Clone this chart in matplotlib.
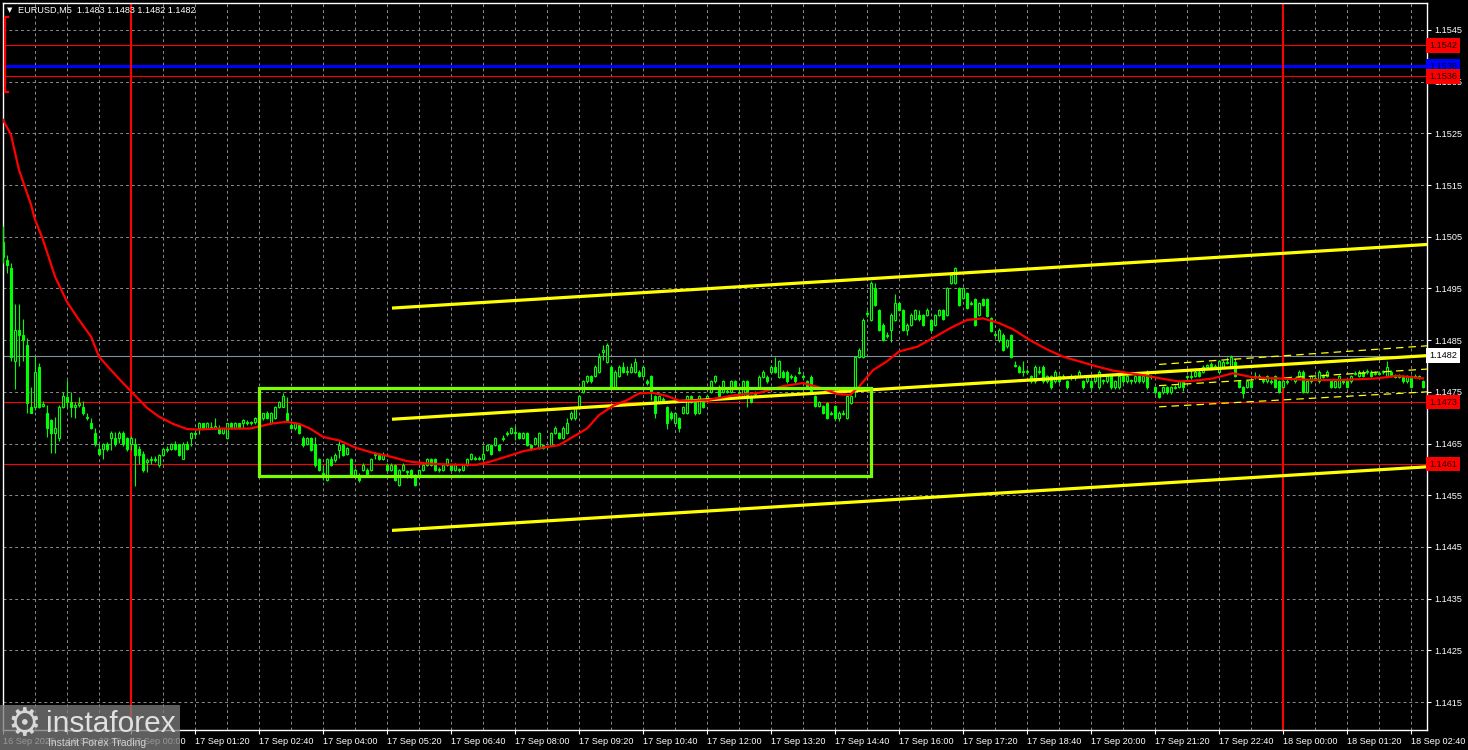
import matplotlib
matplotlib.use("Agg")
import matplotlib.pyplot as plt
import matplotlib.patches as mpatches
import numpy as np

plt.rcParams['font.family'] = ['Liberation Sans', 'DejaVu Sans']

# EURUSD M5, bar 0 = 17 Sep 00:00, prices in pips above 1.1400
BASE = 1.1400
PIP = 0.0001
first_bar = -32

opens = [
    104, 100.5, 99, 81, 87, 86, 84, 72.1, 72.1, 79.9, 72.3, 70.9, 69.6, 67, 66, 72.1,
    74, 73.1, 72.1, 72.4, 72, 70.2, 68.9, 67, 63.9, 63.9, 64.9, 66, 66, 66, 67, 66,
    64.9, 64.9, 63.9, 63, 61.4, 61.8, 62, 60.8, 62.8, 63.9, 63.9, 64.9, 64.9, 62, 64.9, 66,
    66.8, 68, 68.9, 68, 68.2, 68, 68, 67, 66, 68.9, 68, 68.9, 68.9, 69.2, 68.9, 69.1,
    69.9, 69.9, 70.9, 68.9, 69.9, 72.1, 72.1, 71, 68.6, 68, 68.6, 66, 65, 66, 65, 62,
    59.3, 58, 62, 61.8, 63.8, 64.7, 63, 62, 59, 59, 59.9, 59.9, 59.9, 62.7, 62.8, 62,
    60.9, 59.9, 60.9, 57, 59.9, 59.6, 59.9, 59, 59, 59.9, 60.9, 62, 62, 59.9, 59.9, 60.9,
    60.9, 59.9, 59.9, 59.9, 60.9, 62, 62.2, 62, 62, 63.8, 64.7, 64.7, 64.7, 65.8, 66.8, 67,
    67, 67, 66, 67, 64.7, 65, 64.1, 64.7, 64.3, 64.7, 67, 67, 66, 67, 69.9, 69.9,
    71.8, 75, 77, 78, 78, 78.9, 82.8, 80.8, 79.9, 76, 78, 79.9, 78.9, 78.9, 78.9, 78.9,
    78, 77, 78, 74.1, 73.1, 73.7, 72.1, 70.9, 68.9, 69.9, 70.9, 70.9, 74.1, 73.1, 70.9, 73.1,
    73.9, 75, 77, 76, 75, 75.2, 75, 77, 74.9, 74.1, 77, 74.1, 74.6, 76, 77.9, 77.9,
    78.9, 79.9, 77.9, 78.9, 78.9, 77.8, 77.9, 78.7, 78, 77, 77.9, 74.1, 72.2, 72.2, 72.8, 70.8,
    72.2, 69.9, 70.8, 69.9, 72.8, 76, 81.8, 81.8, 90, 88.9, 95, 90.8, 88, 85.8, 87, 88.9,
    92.1, 90.8, 87, 88, 89, 89.9, 89.9, 89.9, 88.9, 88, 89.9, 90.8, 89.9, 96, 96, 95,
    93.1, 94.1, 92, 92.9, 89.9, 92.9, 92.9, 89.2, 86.2, 85, 86, 83.8, 86, 80.2, 79.9, 79,
    78.8, 78, 77, 79, 79.9, 77, 78, 77, 78, 77.8, 77, 77.8, 78, 78, 77, 77,
    77, 77, 75.9, 77.2, 77, 78, 75.9, 75.9, 78, 77, 77.2, 77, 78, 77, 78.9, 77.8,
    75.9, 74.9, 74.9, 75.9, 74.9, 75.8, 75.9, 77, 77.8, 78, 78, 78.9, 78.9, 79.9, 80.3, 79.8,
    78.9, 79.9, 80.8, 79.9, 80.8, 77, 75.9, 75.9, 77, 77.8, 78, 77.2, 77, 77.1, 78, 77,
    76, 77.1, 77.5, 77, 78, 78.9, 75, 77, 77.5, 77, 78.1, 78, 77, 76, 76, 77.1,
    77, 77, 78.5, 78, 78.9, 78.8, 78.9, 78.5, 78.7, 78.8, 78, 78.9, 78.1, 77.9, 78, 77,
    78, 77.9, 78, 77,
]
highs = [
    107, 101.5, 100, 92, 92, 89, 85.5, 76, 82, 80.5, 73.2, 72.5, 69.8, 70.2, 72.5, 75,
    77.3, 75, 73.1, 74, 73.2, 71, 70, 68, 65, 65.2, 65.3, 67.5, 67.2, 67.5, 67.5, 66.3,
    66.5, 66, 64.5, 63.5, 62.2, 62.5, 62.5, 63, 64.2, 64.5, 65.2, 65.5, 65, 65.3, 65.5, 67.2,
    67.5, 69.2, 69, 69.2, 69.1, 69.9, 68.5, 68.1, 69, 69.1, 69.2, 69, 69.8, 69.6, 69.3, 70.2,
    70.3, 71, 71.2, 71.1, 72.3, 73.3, 74.8, 74, 69, 69.2, 68.9, 66.5, 66.3, 66.2, 66.3, 62.3,
    60.9, 62.3, 62.5, 63.2, 65.7, 65, 64.4, 62.3, 60.2, 59.3, 61.2, 60.2, 62.3, 63.3, 63.1, 63.4,
    61.2, 61.2, 61.1, 60.1, 61.2, 59.9, 60.1, 59.2, 60.1, 61.1, 62.2, 62.3, 62.2, 60.4, 61.1, 62.2,
    61.1, 61.2, 60.3, 61.1, 62.2, 63.2, 62.5, 62.5, 64.7, 65, 65, 66.3, 65, 66.6, 67.5, 68.2,
    68.3, 67.2, 67.2, 67.2, 65, 66.3, 67.2, 65, 64.8, 67.3, 68.3, 67.2, 68.3, 70, 71.2, 72.1,
    74.3, 77.3, 78.3, 78.3, 80.2, 82.5, 84.1, 84.5, 80.2, 79.2, 80.2, 80.8, 80, 80.5, 81.5, 79.2,
    80.2, 77.5, 78.3, 74.3, 74.3, 74, 72.3, 71.2, 71.1, 70.2, 72.3, 74.3, 74.3, 73.3, 74.3, 73.3,
    74.5, 77.3, 78.3, 76.3, 77.3, 75.5, 77.3, 77.3, 75.5, 77.3, 77.3, 74.3, 75.2, 78.2, 79.2, 78.2,
    80.2, 81.8, 81.2, 79.2, 79.2, 78.5, 78.2, 79.8, 78.4, 77.2, 78.2, 74.3, 73.3, 72.4, 73, 71.3,
    72.4, 71.2, 71.5, 74.3, 74.4, 82, 83.4, 89.2, 90.8, 96.4, 96, 91, 88.3, 86.5, 90.2, 94,
    92.4, 91, 88.3, 90.2, 91.1, 90.8, 90.1, 91.2, 89.1, 90.1, 91, 91, 95.3, 97.9, 99.1, 95.2,
    95.3, 94.4, 92.6, 93.1, 92.4, 93.1, 93.1, 89.5, 86.6, 87.3, 86.3, 85.3, 86.2, 80.9, 80.2, 80.9,
    79.4, 78.2, 80.1, 80, 80.1, 78.2, 78.2, 79.2, 78.3, 78.4, 77.2, 78.5, 78.3, 79.2, 77.2, 78.2,
    77.2, 78.2, 79.2, 77.5, 78.3, 78.2, 77.2, 78.2, 78.2, 78.2, 77.5, 78.2, 78.2, 78.2, 79.2, 78.3,
    76.1, 75.1, 76.1, 76.1, 76.1, 76.4, 77.2, 77.2, 78.3, 79.2, 79.2, 79.2, 80.2, 80.4, 80.8, 80.3,
    81.2, 81.1, 81.8, 82.1, 81.5, 77.2, 76.1, 77.2, 77.2, 78.8, 78.5, 77.5, 78.2, 77.4, 78.2, 77.2,
    77.2, 77.4, 78, 77.9, 79.2, 79.2, 77.2, 78.2, 78, 79.2, 78.4, 79.2, 77.2, 77.2, 78.2, 77.4,
    77.2, 78.2, 79, 79.2, 79.2, 79.4, 79.2, 79, 79, 79.3, 80.9, 79.2, 78.4, 78.4, 78.2, 78.2,
    78.2, 78.4, 78.3, 77.2,
]
lows = [
    100, 97.9, 81, 75.5, 80, 81, 71, 70.9, 71.5, 71.8, 72, 66.3, 63.1, 63.1, 65.5, 71.8,
    72.1, 70.2, 69.9, 72, 70.5, 69.5, 67.8, 64.5, 62.8, 62, 63.5, 63.8, 64.6, 65.2, 64.5, 63.5,
    63.8, 56.8, 61, 59.5, 59.5, 61, 61.5, 60.5, 62.5, 63.3, 63.8, 63.8, 62.5, 62, 63.8, 64.5,
    66, 66.8, 67.8, 67.9, 67.8, 67.9, 66.9, 66.8, 65.8, 67.9, 67.9, 67.8, 68, 68.6, 68.5, 68.8,
    68.7, 69.5, 69.7, 68.7, 69.7, 71.8, 72, 69.2, 67.8, 67.7, 66.8, 64.3, 64.8, 63.5, 60.5, 59.7,
    58, 57.8, 60.7, 61.5, 62.2, 62.5, 62.8, 58.8, 58.7, 57.6, 59.7, 58.7, 59.7, 62, 61.8, 61.8,
    59.7, 59.6, 57.8, 56.8, 59.7, 58.3, 58.4, 56.8, 58.8, 59.7, 60.7, 60.7, 59.7, 59.5, 59.6, 60.7,
    59.7, 59.7, 59.5, 59.7, 60.7, 61.8, 61.8, 61.8, 61.8, 63.6, 62.8, 64.5, 63.6, 65.5, 66.5, 66.8,
    65.7, 65.8, 65.8, 64.5, 63.8, 64.8, 63.9, 63.9, 64, 64.5, 66.8, 65.8, 65.8, 66.8, 69.6, 69.6,
    71.6, 74.8, 76.7, 76.8, 77.8, 78.6, 81.2, 80.6, 75.8, 75.8, 77.8, 78.7, 78.3, 78.7, 78.7, 77.8,
    77.8, 76.3, 73.5, 70, 72.9, 72.8, 67.9, 69.6, 68.7, 67.2, 70.7, 70.7, 72.9, 70.6, 70.7, 71.8,
    73.6, 74.8, 76.8, 73.9, 74.8, 74.7, 74.8, 75.8, 74.2, 73.9, 72.1, 72.8, 74.2, 75.8, 77.7, 76.7,
    78.7, 78.7, 77.7, 77.7, 76.8, 77.4, 76.8, 78.4, 77.4, 75.8, 74.8, 72, 72, 70.7, 69.7, 70.5,
    69.5, 69.3, 70.5, 69.7, 72.6, 74, 81.6, 81.6, 89.4, 88.7, 91.6, 86.8, 84.8, 85.5, 84.7, 88.7,
    90.6, 86.8, 86, 87.8, 88.8, 88.7, 87.8, 89.7, 86.8, 87.8, 89.7, 88.8, 89.7, 95.8, 95.8, 91.6,
    92.9, 91, 91.7, 87.8, 89.7, 91.6, 89.4, 86.5, 85.6, 84.7, 82.9, 83.5, 81.6, 79.9, 78.7, 78,
    78.5, 76.8, 76.8, 78.5, 76.8, 76.7, 75.6, 76.8, 76.8, 77.5, 75.6, 77.3, 77.3, 77.8, 75.6, 76.8,
    75.6, 76.8, 75.6, 76.6, 76.8, 75.6, 75.6, 75.6, 76.8, 76.8, 76.6, 76.8, 76.8, 76.8, 75.6, 77.5,
    74.6, 73.8, 74.6, 74.6, 74.6, 75.5, 75.7, 75.2, 77.5, 77.5, 77.8, 77.8, 78.7, 79.6, 79.2, 79.5,
    78.7, 79.7, 80.3, 79.7, 77.8, 75.8, 73.8, 75.7, 75.7, 77.5, 77.5, 76.7, 76.8, 76.6, 75.8, 74.8,
    75.8, 76.5, 77.2, 76.8, 77.8, 74.8, 74.8, 76.8, 77.2, 76.8, 77.6, 77.8, 75.8, 75.8, 75.8, 76.6,
    75.8, 76.8, 78.2, 77.8, 77.8, 78.5, 77.8, 78.2, 78.2, 78.5, 77.8, 77.8, 77.6, 77.6, 76.8, 76.8,
    75.8, 77.6, 77.5, 75.8,
]
closes = [
    101, 99.6, 81.8, 87, 86, 85, 72.8, 71, 78.9, 72.1, 72.7, 68, 67, 68, 72.1, 74.1,
    73, 72.1, 72.4, 72.9, 70.9, 69.9, 68, 64.9, 63, 64.9, 63.9, 67, 64.9, 67, 64.9, 63.9,
    66, 62.8, 62.8, 59.9, 61.8, 62, 61.8, 62.8, 63.9, 63.7, 64.9, 63.9, 62.8, 64.9, 63.9, 67,
    67, 68.9, 68, 68.9, 68, 68.3, 67, 68, 68.9, 68, 68.9, 68, 69.6, 68.9, 69.1, 69.9,
    68.9, 70.9, 69.9, 70.9, 72.1, 73.1, 74.1, 69.6, 68, 68.9, 67, 64.7, 66, 63.8, 60.9, 59.9,
    58.9, 62, 60.9, 62.8, 64.7, 62.8, 64.1, 59, 59.9, 58, 60.9, 59, 62, 62.9, 62, 62.8,
    59.9, 60.9, 58, 59.9, 60.9, 59.4, 58.6, 57, 59.9, 60.9, 62, 60.9, 59.9, 60.1, 60.9, 62,
    59.9, 60.9, 60.1, 60.9, 62, 63, 62, 62.2, 63, 64.7, 63, 66, 63.8, 66, 67, 68,
    67.2, 66, 67, 64.7, 64.1, 66, 67, 64.1, 64.5, 67, 68, 66, 68, 68.9, 70.9, 71.8,
    74.1, 77, 78, 77, 79.9, 81.8, 83.1, 84.1, 76, 78.9, 79.9, 78.9, 79.1, 79.9, 80.8, 78,
    79.9, 76.8, 75, 70.9, 74.1, 73.1, 68.9, 69.9, 70.9, 68, 72.1, 74.1, 73.1, 70.9, 74.1, 72.1,
    74.1, 77, 78, 74.1, 77, 75, 77, 76, 74.7, 77, 74.1, 73.1, 74.8, 77.9, 78.9, 77,
    79.9, 78.9, 80.9, 77.9, 77, 78, 77, 78.9, 77.8, 76, 75, 72.2, 73.1, 70.9, 69.9, 71,
    69.9, 70.9, 71, 74.1, 74.1, 81.8, 83.1, 88.9, 90.2, 96, 91.8, 87, 85, 86, 89.9, 92.1,
    90.8, 87, 88, 89.9, 90.8, 89, 88, 90.8, 87, 89.9, 90.8, 89, 95, 97.6, 98.9, 91.8,
    95, 91.2, 92.2, 88, 92.1, 91.8, 89.6, 86.7, 86, 87, 83.1, 85, 81.8, 80, 78.9, 78.9,
    79, 77, 79.9, 78.8, 77, 78, 75.9, 78.9, 77, 78, 75.9, 78, 77.8, 78.9, 75.9, 78,
    75.9, 78, 78.9, 77, 78, 75.9, 77, 78, 77, 78, 77, 78, 77, 78, 75.9, 78,
    74.9, 74, 75.9, 74.9, 75.9, 76, 77, 75.9, 78, 77.8, 78.9, 78, 79.9, 80.1, 79.5, 80,
    80.9, 80.8, 80.6, 81.8, 78, 76, 74.8, 77, 75.9, 78, 77.8, 77, 78, 76.9, 76, 75,
    77, 76.9, 77.7, 77.6, 78.9, 75, 77, 78, 77.7, 78.9, 77.9, 78.9, 76, 77, 78, 76.9,
    76, 78, 78.7, 78.9, 78, 79, 78, 78.7, 78.5, 79, 79.9, 78, 77.9, 78.1, 77, 78,
    76, 78.1, 77.7, 76,
]

# moving average (red), read at these bars
ma_bars = [-32, -30, -28, -25, -24, -22, -19, -16, -13, -10, -8, -5, -2, 0.5, 4, 7,
           10.5, 14, 17, 21.5, 25.5, 29.75, 32, 35.5, 39, 42, 44.75, 48, 52, 56.5, 60.5, 64.75,
           69, 73, 77, 81.5, 86.5, 89.75, 94, 98, 102, 107, 110.5, 114, 117, 120.5, 124, 127,
           130.5, 134, 137, 140.5, 144, 147, 150.5, 154, 157, 163, 168, 171.5, 176.5, 179.75, 182, 185.5,
           189, 192, 196.5, 200.5, 204.75, 209, 213, 217, 220.5, 224.75, 229, 233, 237, 241.5, 245.5,
           249.75, 254, 258, 262, 266.5, 270.5, 275.5, 280.5, 286.5, 294.75, 303, 311.5, 316.5, 323]
ma_pips = [127.6, 124.7, 117.9, 111.2, 108.3, 104.4, 97.3, 92.4, 88.9, 85.7, 81.8, 79.2, 76.7, 74.7, 71.9, 70.2,
           68.8, 67.8, 67.7, 67.9, 67.9, 67.9, 68.3, 68.9, 69.2, 68.8, 67.9, 66.3, 65.6, 64.1, 63.2, 62.5,
           61.6, 61.2, 61.0, 60.9, 60.9, 61.5, 62.5, 63.5, 64.1, 64.7, 66.3, 67.9, 70.5, 72.3, 73.4, 74.7,
           74.8, 74.2, 73.3, 73.3, 73.4, 73.8, 74.3, 74.6, 74.8, 76.1, 76.7, 76.0, 74.6, 74.4, 76.0, 79.2,
           80.9, 82.8, 83.7, 85.4, 87.3, 88.9, 89.2, 88.3, 87.1, 85.0, 83.2, 81.8, 80.9, 79.9, 79.1,
           78.6, 78.1, 77.5, 77.0, 77.2, 77.6, 78.6, 77.8, 77.6, 77.3, 77.3, 77.6, 78.1, 77.6]

# linear regression channel (thick yellow)
reg_bars = [65.25, 324]
reg_mid = [69.7, 82.0]
reg_half = 21.5
# short dashed channel on the right
sc_bars = [257, 324]
sc_upper = [80.3, 83.9]
sc_mid = [76.2, 79.4]
sc_lower = [72.1, 75.0]

# consolidation box
box_bars = [32, 185]
box_prices = [1.14587, 1.14758]

# marker bracket top-left
bracket_bar = -31.5
bracket_prices = [1.15475, 1.15330]

day_bars = [0, 288]
levels = [1.1542, 1.1538, 1.1536, 1.1482, 1.1473, 1.1461]
level_kind = ['red', 'blue', 'red', 'bid', 'red', 'red']

xtick_bars = list(range(-32, 321, 16))
xtick_labels = ['16 Sep 2025', '16 Sep 22:40', '17 Sep 00:00', '17 Sep 01:20', '17 Sep 02:40',
                '17 Sep 04:00', '17 Sep 05:20', '17 Sep 06:40', '17 Sep 08:00', '17 Sep 09:20',
                '17 Sep 10:40', '17 Sep 12:00', '17 Sep 13:20', '17 Sep 14:40', '17 Sep 16:00',
                '17 Sep 17:20', '17 Sep 18:40', '17 Sep 20:00', '17 Sep 21:20', '17 Sep 22:40',
                '18 Sep 00:00', '18 Sep 01:20', '18 Sep 02:40']
ytick_prices = [1.1415, 1.1425, 1.1435, 1.1445, 1.1455, 1.1465, 1.1475,
                1.1485, 1.1495, 1.1505, 1.1515, 1.1525, 1.1535, 1.1545]

title = 'EURUSD,M5  1.1483 1.1483 1.1482 1.1482'

assert len(opens) == len(highs) == len(lows) == len(closes)
assert len(ma_bars) == len(ma_pips)

GREEN = '#00ff00'
LIME = '#7cfc00'
YELLOW = '#ffff00'
RED = '#ff0000'
BLUE = '#0000ff'
GRID = '#8c8c8c'
FS = 6.6

W, H = 1468, 750
fig = plt.figure(figsize=(W / 100, H / 100), dpi=100, facecolor='black')
ax = fig.add_axes([3 / W, 20 / H, 1424 / W, 727 / H])
ax.set_facecolor('black')

o = BASE + np.array(opens) * PIP
h = BASE + np.array(highs) * PIP
l = BASE + np.array(lows) * PIP
c = BASE + np.array(closes) * PIP
bars = np.arange(first_bar, first_bar + len(c))
up = c >= o
body = np.maximum(np.abs(c - o), 0.12 * PIP)
bottom = np.minimum(o, c)

ax.vlines(bars, l, h, color=GREEN, lw=0.8, zorder=3)
ax.bar(bars[up], body[up], bottom=bottom[up], width=0.55, facecolor='black',
       edgecolor=GREEN, linewidth=0.8, zorder=4)
ax.bar(bars[~up], body[~up], bottom=bottom[~up], width=0.55, facecolor=GREEN,
       edgecolor=GREEN, linewidth=0.8, zorder=4)

# horizontal levels
for p, k in zip(levels, level_kind):
    if k == 'blue':
        ax.axhline(p, color=BLUE, lw=2.2, zorder=2)
    elif k == 'bid':
        ax.axhline(p, color='#8090a0', lw=0.8, zorder=2)
    else:
        ax.axhline(p, color=RED, lw=0.8, zorder=2)
for b in day_bars:
    ax.axvline(b, color=RED, lw=1.5, zorder=2)

# regression channel
rm = BASE + np.array(reg_mid) * PIP
for off in (-reg_half, 0, reg_half):
    ax.plot(reg_bars, rm + off * PIP, color=YELLOW, lw=2.3, zorder=5, solid_capstyle='butt')
for arr in (sc_upper, sc_mid, sc_lower):
    ax.plot(sc_bars, BASE + np.array(arr) * PIP, color=YELLOW, lw=0.9,
            ls=(0, (6, 4)), zorder=5)

# moving average
ax.plot(ma_bars, BASE + np.array(ma_pips) * PIP, color=RED, lw=1.6, zorder=6)

# box
ax.add_patch(mpatches.Rectangle((box_bars[0], box_prices[0]), box_bars[1] - box_bars[0],
                                box_prices[1] - box_prices[0], fill=False,
                                edgecolor=LIME, lw=2.3, zorder=6))

# bracket
ax.plot([bracket_bar + 0.8, bracket_bar, bracket_bar, bracket_bar + 0.8],
        [bracket_prices[0], bracket_prices[0], bracket_prices[1], bracket_prices[1]],
        color=RED, lw=1.6, zorder=6, clip_on=False)

ax.set_xlim(-32, 324)
ax.set_ylim(1.14096, 1.15502)

ax.set_xticks(xtick_bars)
ax.set_xticklabels(xtick_labels, ha='left')
ax.set_xticks(np.arange(-32, 325, 8), minor=True)
ax.set_yticks(ytick_prices)
ax.set_yticklabels(['%.4f' % p for p in ytick_prices])
ax.yaxis.tick_right()
ax.tick_params(axis='both', which='major', colors='white', labelsize=FS, length=3,
               width=0.8, direction='out', pad=2)
ax.tick_params(axis='x', which='minor', length=0)
ax.grid(True, which='both', axis='x', color=GRID, lw=0.7, ls=(0, (3, 3)), zorder=1)
ax.grid(True, which='major', axis='y', color=GRID, lw=0.7, ls=(0, (3, 3)), zorder=1)
ax.set_axisbelow(True)
for s in ax.spines.values():
    s.set_color('white')
    s.set_linewidth(1)

# price tags on the right
tag_style = {'red': (RED, '#200000'), 'blue': (BLUE, '#000030'), 'bid': ('white', 'black')}
for p, k in zip(levels, level_kind):
    fc, tc = tag_style[k]
    ax.text(1.0015, p, '%.4f' % p, transform=ax.get_yaxis_transform(), va='center',
            ha='left', fontsize=FS, color=tc, clip_on=False, zorder=10,
            bbox=dict(boxstyle='square,pad=0.3', fc=fc, ec='none'))

# header
ax.text(0.0048, 0.990, '\u25bc', transform=ax.transAxes, color='white', fontsize=5,
        va='center', ha='center', family=['DejaVu Sans'])
ax.text(0.0105, 0.990, title, transform=ax.transAxes, color='white', fontsize=FS,
        va='center', ha='left')

# watermark
fig.add_artist(mpatches.Rectangle((0, 0), 180 / W, 45 / H, transform=fig.transFigure,
                                  fc='#7a7a7a', ec='none', alpha=0.78, zorder=10))
fig.text(24 / W, 25 / H, '\u2699', color='#d8d8d8', fontsize=27, ha='center', va='center',
         family=['DejaVu Sans'], zorder=11)
fig.text(46 / W, 26 / H, 'instaforex', color='#e0e0e0', fontsize=21.5, ha='left',
         va='center', zorder=11)
fig.text(48 / W, 7 / H, 'Instant Forex Trading', color='#d0d0d0', fontsize=7.5,
         ha='left', va='center', zorder=11)

fig.savefig('out.png', dpi=100, facecolor='black')
